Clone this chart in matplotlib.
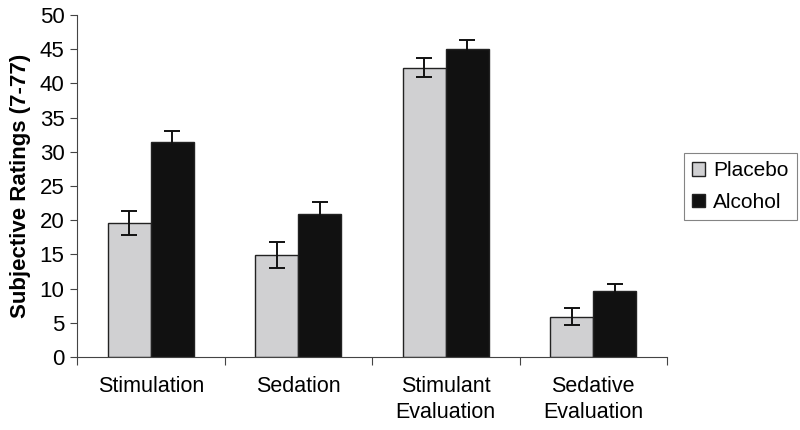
import matplotlib
matplotlib.use("Agg")
import matplotlib.pyplot as plt
import numpy as np

categories = ["Stimulation", "Sedation", "Stimulant\nEvaluation", "Sedative\nEvaluation"]
placebo = [19.6, 14.9, 42.3, 5.9]
placebo_se = [1.7, 1.9, 1.4, 1.2]
alcohol = [31.5, 20.9, 45.0, 9.7]
alcohol_se = [1.6, 1.8, 1.4, 0.9]
yticks = [0, 5, 10, 15, 20, 25, 30, 35, 40, 45, 50]

plt.rcParams['font.family'] = ['Liberation Sans', 'DejaVu Sans']

fig = plt.figure(figsize=(8, 4.3), dpi=100)
ax = fig.add_axes([77/800, 1-357/430, 590/800, (357-15)/430])

x = np.arange(len(categories))
w = 0.29
ax.bar(x - w/2, placebo, w, color='#d0d0d2', edgecolor='#222222', linewidth=1.0,
       label='Placebo', zorder=2)
ax.bar(x + w/2, alcohol, w, color='#111111', edgecolor='#222222', linewidth=1.0,
       label='Alcohol', zorder=2)
ax.errorbar(x - w/2, placebo, yerr=placebo_se, fmt='none', ecolor='#111111',
            elinewidth=1.4, capsize=6, capthick=1.4, zorder=3)
ax.errorbar(x + w/2, alcohol, yerr=alcohol_se, fmt='none', ecolor='#111111',
            elinewidth=1.4, capsize=6, capthick=1.4, zorder=3)

ax.set_xlim(-0.5, len(categories) - 0.5)
ax.set_ylim(0, 50)
ax.set_yticks(yticks)
ax.tick_params(axis='y', labelsize=16, length=5, color='#444444', width=0.8, pad=4)

ax.set_xticks(x)
ax.set_xticklabels(categories, fontsize=15.5, linespacing=1.3)
ax.tick_params(axis='x', length=0, pad=14)
ax.set_xticks(np.arange(len(categories) + 1) - 0.5, minor=True)
ax.tick_params(axis='x', which='minor', length=6, color='#444444', width=0.8, direction='out')

for s in ['top', 'right']:
    ax.spines[s].set_visible(False)
for s in ['left', 'bottom']:
    ax.spines[s].set_color('#444444')
    ax.spines[s].set_linewidth(0.8)

ax.set_ylabel('Subjective Ratings (7-77)', fontsize=16, fontweight='bold', labelpad=6)

leg = fig.legend(loc='upper left', bbox_to_anchor=(684/800, 1-153/430), fontsize=15,
                 frameon=True, fancybox=False, edgecolor='#666666',
                 handlelength=0.6, handleheight=0.6, handletextpad=0.4,
                 borderpad=0.4, labelspacing=0.6, borderaxespad=0)
leg.get_frame().set_linewidth(0.8)

fig.savefig('out.png', dpi=100)
